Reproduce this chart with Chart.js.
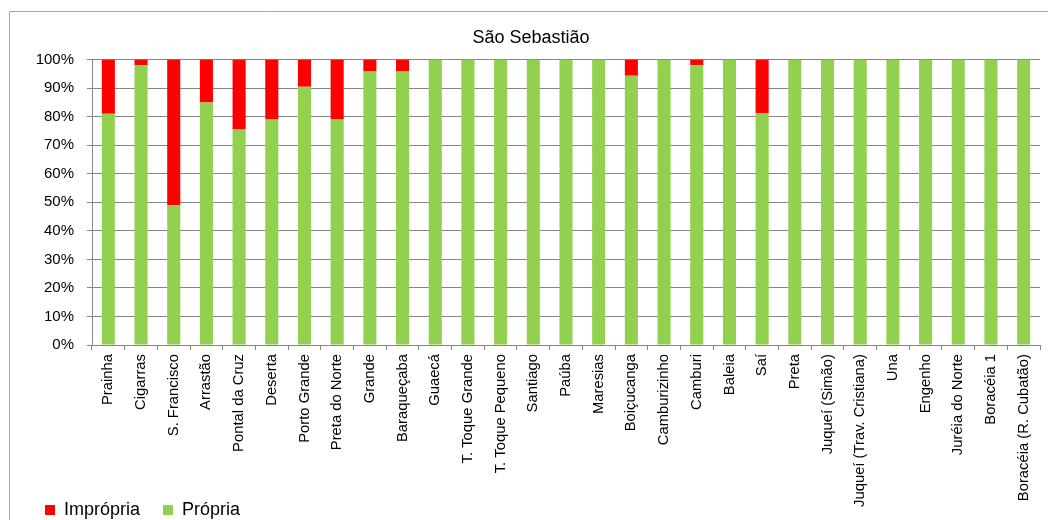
<!DOCTYPE html>
<html>
<head>
<meta charset="utf-8">
<script src="https://cdn.jsdelivr.net/npm/chart.js@4.4.1/dist/chart.umd.min.js"></script>
<style>
  html, body { margin: 0; padding: 0; background: #fff; }
  #wrap { position: relative; width: 1048px; height: 520px; }
</style>
</head>
<body>
<div id="wrap"><canvas id="chart" width="1048" height="520"></canvas></div>
<script>
const categories = [
    "Prainha", "Cigarras", "S. Francisco", "Arrastão", "Pontal da Cruz", "Deserta",
    "Porto Grande", "Preta do Norte", "Grande", "Baraqueçaba", "Guaecá",
    "T. Toque Grande", "T. Toque Pequeno", "Santiago", "Paúba", "Maresias",
    "Boiçucanga", "Camburizinho", "Camburi", "Baleia", "Saí", "Preta",
    "Juqueí (Simão)", "Juqueí (Trav. Cristiana)", "Una", "Engenho",
    "Juréia do Norte", "Boracéia 1", "Boracéia (R. Cubatão)"
];
const propria = [81, 98, 49, 85, 75.5, 79, 90.5, 79, 96, 96, 100,
    100, 100, 100, 100, 100, 94.3, 100, 98, 100, 81.3, 100,
    100, 100, 100, 100, 100, 100, 100];
const impropria = [19, 2, 51, 15, 24.5, 21, 9.5, 21, 4, 4, 0,
    0, 0, 0, 0, 0, 5.7, 0, 2, 0, 18.7, 0,
    0, 0, 0, 0, 0, 0, 0];
const yTicks = [0, 10, 20, 30, 40, 50, 60, 70, 80, 90, 100];

const gridGray = "#868686";

// outer frame of the chart (top and left edges are visible)
const frame = {
    id: "frame",
    beforeDraw(chart) {
        const { ctx } = chart;
        ctx.save();
        ctx.strokeStyle = "#a6a6a6";
        ctx.lineWidth = 1;
        ctx.beginPath();
        ctx.moveTo(9.5, 530);
        ctx.lineTo(9.5, 11.5);
        ctx.lineTo(1060, 11.5);
        ctx.stroke();
        ctx.restore();
    }
};

// the long vertical labels run down next to the legend, so let them
// use the whole height instead of being clipped at the axis box
const longLabels = {
    id: "longLabels",
    afterLayout(chart) {
        chart.scales.x.bottom = chart.height;
    }
};

new Chart(document.getElementById("chart"), {
    type: "bar",
    data: {
        labels: categories,
        datasets: [
            {
                label: "Própria",
                data: propria,
                backgroundColor: "#92d050",
                categoryPercentage: 1,
                barPercentage: 0.4
            },
            {
                label: "Imprópria",
                data: impropria,
                backgroundColor: "#ff0000",
                categoryPercentage: 1,
                barPercentage: 0.4
            }
        ]
    },
    options: {
        responsive: false,
        animation: false,
        layout: {
            padding: { left: 22, right: 8, top: 12, bottom: -9 }
        },
        plugins: {
            title: {
                display: true,
                text: "São Sebastião",
                color: "#000",
                font: { family: "Liberation Sans", size: 18, weight: "normal" },
                padding: { top: 15, bottom: 11 }
            },
            legend: {
                position: "bottom",
                align: "start",
                reverse: true,
                labels: {
                    color: "#000",
                    boxWidth: 10,
                    boxHeight: 10,
                    padding: 23,
                    font: { family: "Liberation Sans", size: 18 }
                }
            },
            tooltip: { enabled: false }
        },
        scales: {
            x: {
                stacked: true,
                grid: {
                    offset: true,
                    drawOnChartArea: false,
                    color: gridGray,
                    tickLength: 5
                },
                border: { color: gridGray },
                ticks: {
                    color: "#000",
                    minRotation: 90,
                    maxRotation: 90,
                    autoSkip: false,
                    padding: 4,
                    font: { family: "Liberation Sans", size: 14.8 }
                },
                afterFit(scale) {
                    scale.height = 133;
                }
            },
            y: {
                stacked: true,
                min: 0,
                max: 100,
                afterBuildTicks(scale) {
                    scale.ticks = yTicks.map(v => ({ value: v }));
                },
                grid: {
                    color: gridGray,
                    tickLength: 5
                },
                border: { color: gridGray },
                ticks: {
                    color: "#000",
                    padding: 13,
                    font: { family: "Liberation Sans", size: 15 },
                    callback: v => v + "%"
                },
                afterFit(scale) {
                    scale.width = 70;
                }
            }
        }
    },
    plugins: [frame, longLabels]
});
</script>
</body>
</html>
